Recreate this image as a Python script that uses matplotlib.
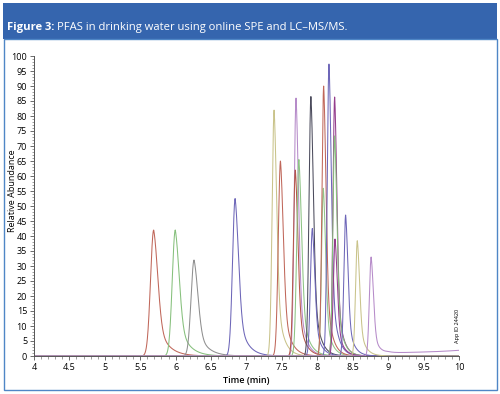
import numpy as np
import matplotlib
matplotlib.use("Agg")
import matplotlib.pyplot as plt
from matplotlib.patches import Rectangle
from matplotlib.ticker import MultipleLocator

plt.rcParams['font.family'] = ['Open Sans', 'DejaVu Sans']

# peak table: retention time (min), relative abundance, width, trace colour
peak_time = [5.69, 5.995, 6.26, 6.84, 7.39, 7.48, 7.70, 7.69, 7.74, 7.91,
             7.93, 8.085, 8.09, 8.165, 8.245, 8.245, 8.25, 8.40, 8.565, 8.76]
peak_height = [42, 42, 32, 52.5, 82, 65, 86, 62, 65.5, 86.5,
               42.5, 56, 90, 97.5, 86.5, 73.5, 39, 47, 38.5, 33]
peak_width = [0.045, 0.043, 0.043, 0.037, 0.028, 0.031, 0.027, 0.028, 0.030, 0.027,
              0.027, 0.025, 0.025, 0.025, 0.024, 0.025, 0.025, 0.025, 0.025, 0.025]
peak_color = ['#c0675a', '#86c07c', '#8f8f8f', '#6d66b8', '#c9c38a', '#c0675a',
              '#b68bc9', '#b5574a', '#8cc383', '#4b4b5c', '#6d66b8', '#93c78a',
              '#c0675a', '#6d66b8', '#943d8c', '#86c07c', '#943d8c', '#6d66b8',
              '#c9c38a', '#b68bc9']

# baseline drift of the last trace after 9 min
drift_time = [4.0, 8.85, 9.0, 9.3, 9.6, 9.8, 10.0]
drift_level = [0.0, 0.0, 1.0, 1.2, 1.4, 1.6, 1.9]

t = np.linspace(4, 10, 3000)


def peak(t0, h, s):
    d = t - t0
    left = h * np.exp(-0.5 * (d / s) ** 2)
    dr = np.clip(d, 0, None)
    right = h * (0.6 * np.exp(-0.5 * (dr / (1.3 * s)) ** 2) + 0.4 * np.exp(-dr / (3 * s)))
    return np.where(d < 0, left, right)


fig = plt.figure(figsize=(5.0, 3.94), dpi=100)

# banner and frame
fig.patches.append(Rectangle((0.006, 1 - 39 / 394), 0.988, 36 / 394, transform=fig.transFigure,
                             facecolor='#3565ae', edgecolor='none'))
fig.patches.append(Rectangle((0.007, 1 - 390 / 394), 0.986, 351 / 394, transform=fig.transFigure,
                             facecolor='none', edgecolor='#4f86c6', lw=1.0))

txt = fig.text(7 / 500, 1 - 30 / 394, 'Figure 3:', color='white', fontsize=8.1,
               fontweight='bold', va='baseline')
r = fig.canvas.get_renderer()
bb = txt.get_window_extent(r)
fig.text(bb.x1 / 500 + 0.006, 1 - 30 / 394, 'PFAS in drinking water using online SPE and LC\u2013MS/MS.',
         color='white', fontsize=8.1, va='baseline')

ax = fig.add_axes([34 / 500, 38 / 394, 425 / 500, 300 / 394])
for i in range(len(peak_time)):
    y = peak(peak_time[i], peak_height[i], peak_width[i])
    if i == len(peak_time) - 1:
        y = y + np.interp(t, drift_time, drift_level)
    ax.plot(t, y, color=peak_color[i], lw=0.75)

ax.set_xlim(4, 10)
ax.set_ylim(0, 100)
ax.spines['top'].set_visible(False)
ax.spines['right'].set_visible(False)
for s in ['left', 'bottom']:
    ax.spines[s].set_color('#555555')
    ax.spines[s].set_linewidth(0.7)
ax.xaxis.set_major_locator(MultipleLocator(0.5))
ax.xaxis.set_minor_locator(MultipleLocator(0.1))
ax.yaxis.set_major_locator(MultipleLocator(5))
ax.yaxis.set_minor_locator(MultipleLocator(1))
ax.set_xticks([4, 4.5, 5, 5.5, 6, 6.5, 7, 7.5, 8, 8.5, 9, 9.5, 10])
ax.set_xticklabels(['4', '4.5', '5', '5.5', '6', '6.5', '7', '7.5', '8', '8.5', '9', '9.5', '10'])
ax.tick_params(which='major', length=3, width=0.6, color='#555555', labelsize=6.5, pad=2)
ax.tick_params(which='minor', length=1.8, width=0.5, color='#777777')
ax.set_xlabel('Time (min)', fontsize=6.5, fontweight='semibold', labelpad=3)

fig.text(13 / 500, 1 - 191 / 394, 'Relative Abundance', rotation=90, fontsize=6.5,
         ha='center', va='center')
fig.text(457 / 500, 1 - 326 / 394, 'App ID 24420', rotation=90, fontsize=4,
         ha='center', va='center')

fig.savefig('out.png', dpi=100)
